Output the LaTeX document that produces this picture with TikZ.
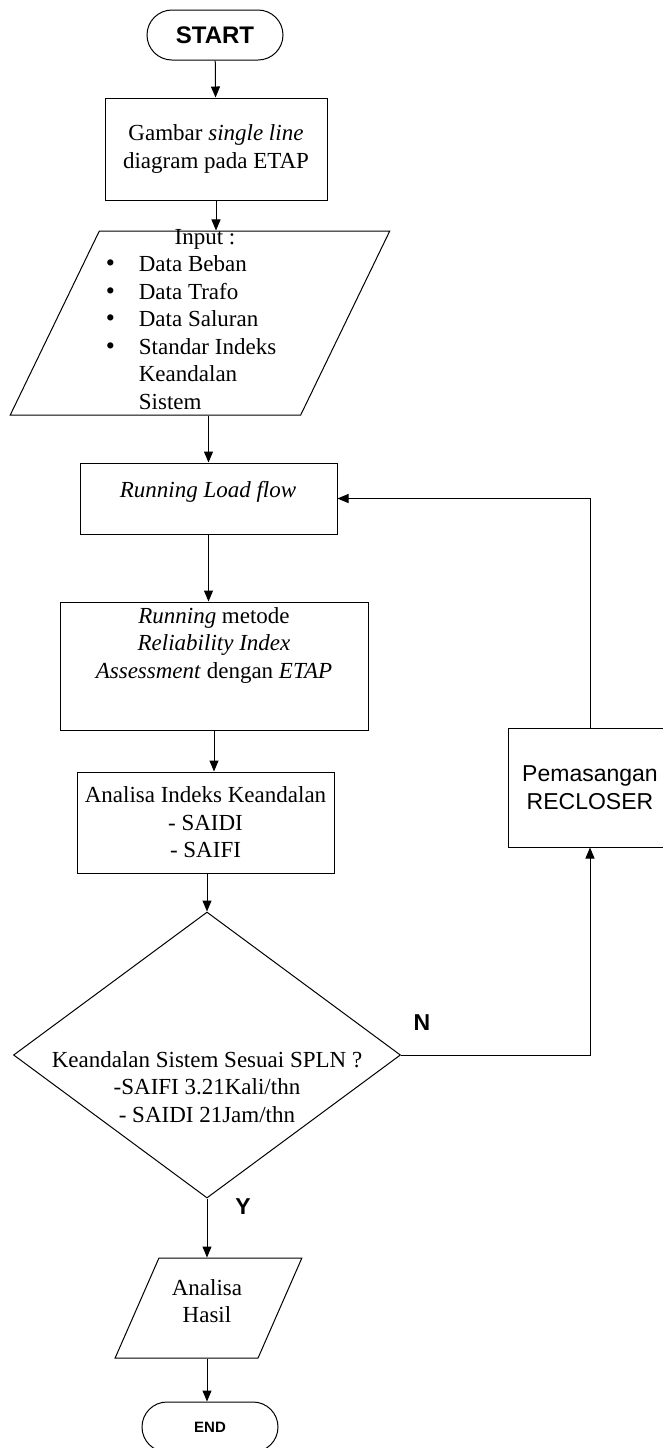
\documentclass[tikz,border=0pt]{standalone}
\usepackage{fontspec}
\setmainfont{Liberation Serif}
\newfontfamily\arialfont{Liberation Sans}
\usetikzlibrary{shapes.geometric, shapes.misc, arrows.meta}
\tikzset{
  base/.style={draw, line width=0.5pt, inner sep=0pt},
  terminal/.style={base, rounded rectangle, minimum width=68pt, minimum height=25pt},
  process/.style={base, rectangle, align=center},
  io/.style={base, trapezium, trapezium left angle=64, trapezium right angle=116, trapezium stretches},
  decision/.style={base, diamond},
  txt/.style={align=center, inner sep=0pt},
  flow/.style={-{Triangle[length=5.5pt,width=4.5pt]}, line width=0.5pt},
  yn/.style={inner sep=0pt, font=\arialfont\bfseries\fontsize{11.5}{13}\selectfont}
}
\newcommand{\serifsize}{\fontsize{11.5}{13.75}\selectfont}
\newcommand{\bigdot}{{\fontsize{13}{13.75}\selectfont\textbullet}}

\begin{document}
\begin{tikzpicture}[x=0.5pt, y=-0.5pt, font=\serifsize]
\useasboundingbox (0,0) rectangle (663,1448);
\clip (0,0) rectangle (663,1448);
% main column
\node[terminal, font=\arialfont\bfseries\fontsize{12}{14}\selectfont] (start) at (215,35) {START};
\node[process, minimum width=111pt, minimum height=51pt] (gambar) at (216,149) {Gambar \textit{single line}\\diagram pada ETAP};
\node[io, minimum width=190pt, minimum height=92pt] (input) at (200,323) {\phantom{X}};
\node[txt] (inputtext) at (191,321) {%
  \begin{tabular}{@{}l@{\hspace{12pt}}l@{}}
  \multicolumn{2}{@{\hspace{14pt}}c@{}}{Input :}\\
  \bigdot & Data Beban\\
  \bigdot & Data Trafo\\
  \bigdot & Data Saluran\\
  \bigdot & Standar Indeks\\
   & Keandalan\\
   & Sistem
  \end{tabular}};
\node[process, minimum width=128.5pt, minimum height=35.5pt] (loadflow) at (208.5,498.5) {};
\node[txt] (loadflowtext) at (208,492) {\textit{Running Load flow}};
\node[process, minimum width=154pt, minimum height=64pt] (rla) at (214,666) {};
\node[txt] (rlatext) at (214,645) {\textit{Running} metode\\\textit{Reliability Index}\\\textit{Assessment} dengan \textit{ETAP}};
\node[process, minimum width=128.5pt, minimum height=50.5pt] (analisa) at (205.5,822.5) {Analisa Indeks Keandalan\\- SAIDI\\- SAIFI};
\node[decision, minimum width=193.5pt, minimum height=143pt] (cek) at (207,1055) {};
\node[txt] (cektext) at (207,1087) {Keandalan Sistem Sesuai SPLN ?\\-SAIFI 3.21Kali/thn\\- SAIDI 21Jam/thn};
\node[io, minimum width=93.5pt, minimum height=50pt] (hasil) at (208.5,1308) {\phantom{X}};
\node[txt] (hasiltext) at (207,1301) {Analisa\\Hasil};
\node[terminal, font=\arialfont\bfseries\fontsize{7.5}{9}\selectfont] (end) at (210,1427) {END};
% recloser branch
\node[process, minimum width=82pt, minimum height=59.5pt, font=\arialfont\fontsize{11.5}{14}\selectfont] (recloser) at (590,787.5) {Pemasangan\\RECLOSER};
\node[yn] (no) at (422,1023) {N};
\node[yn] (yes) at (243,1207) {Y};
% connectors
\draw[flow] (start) -- (gambar);
\draw[flow] (gambar.south) -- (gambar.south |- input.north);
\draw[flow] (loadflow.north |- input.south) -- (loadflow.north);
\draw[flow] (loadflow.south) -- (loadflow.south |- rla.north);
\draw[flow] (rla.south) -- (rla.south |- analisa.north);
\draw[flow] (analisa.south -| cek.north) -- (cek.north);
\draw[flow] (cek.south) -- (cek.south |- hasil.north);
\draw[flow] (cek.south |- hasil.south) -- (cek.south |- end.north);
\draw[flow] (cek.east) -| (recloser.south);
\draw[flow] (recloser.north) |- (loadflow.east);
\end{tikzpicture}
\end{document}
